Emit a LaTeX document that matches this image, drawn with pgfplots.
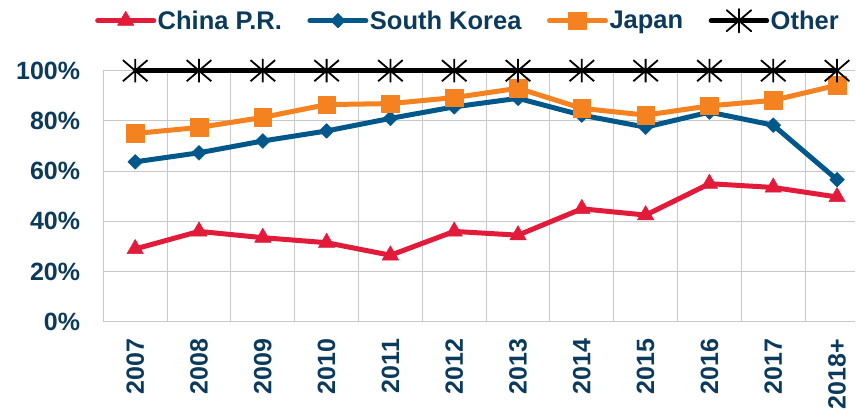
\documentclass[border=0pt]{standalone}
\usepackage{pgfplots}
\pgfplotsset{compat=1.18}
\usepackage{fontspec}
\setmainfont{Liberation Sans}
\definecolor{cred}{HTML}{E31B3B}
\definecolor{cblue}{HTML}{00578A}
\definecolor{corange}{HTML}{F58220}
\definecolor{cnavy}{HTML}{0B3A5C}
\definecolor{cgrid}{HTML}{C8C8C8}
\pgfdeclareplotmark{xstar}{%
  \pgfpathmoveto{\pgfqpoint{0pt}{-\pgfplotmarksize}}\pgfpathlineto{\pgfqpoint{0pt}{\pgfplotmarksize}}%
  \pgfpathmoveto{\pgfqpoint{-1.05\pgfplotmarksize}{-0.9\pgfplotmarksize}}\pgfpathlineto{\pgfqpoint{1.05\pgfplotmarksize}{0.9\pgfplotmarksize}}%
  \pgfpathmoveto{\pgfqpoint{-1.05\pgfplotmarksize}{0.9\pgfplotmarksize}}\pgfpathlineto{\pgfqpoint{1.05\pgfplotmarksize}{-0.9\pgfplotmarksize}}%
  \pgfusepathqstroke}
\begin{document}
\begin{tikzpicture}
\begin{axis}[
  scale only axis,
  width=751.6pt, height=251.1pt,
  xmin=-0.5, xmax=11.28,
  ymin=0, ymax=100,
  clip=false,
  axis x line*=bottom, axis y line*=left,
  axis line style={-, draw=cgrid, line width=1pt},
  xtick={0,...,11},
  xticklabels={2007,2008,2009,2010,2011,2012,2013,2014,2015,2016,2017,2018+},
  minor xtick={0.5,1.5,...,10.5},
  ytick={0,20,40,60,80,100},
  yticklabels={0\%,20\%,40\%,60\%,80\%,100\%},
  xmajorgrids=false, xminorgrids=true, ymajorgrids=true,
  grid style={draw=cgrid, line width=1pt},
  minor grid style={draw=cgrid, line width=1pt},
  major tick length=0pt, minor tick length=0pt,
  tick style={draw=none},
  ticklabel style={font=\bfseries\fontsize{25}{25}\selectfont, text=cnavy},
  yticklabel style={inner sep=0pt, anchor=east},
  yticklabel shift=23pt,
  xticklabel style={rotate=90, anchor=east, inner sep=0pt},
  xticklabel shift=17pt,
  legend columns=4,
  legend style={draw=none, fill=none, inner sep=0pt,
    at={(axis description cs:0,1)}, anchor=west, xshift=-8.3pt, yshift=50pt,
    font=\bfseries\fontsize{25.5}{26}\selectfont, text=cnavy,
    nodes={inner sep=1.5pt},
    /tikz/every even column/.append style={column sep=24pt}},
  legend image code/.code={\draw[mark repeat=2,mark phase=2, line cap=round] plot coordinates {(0pt,0pt) (28pt,0pt) (56pt,0pt)};},
  every axis plot/.append style={line width=5pt, line join=round},
]
\coordinate (O) at (rel axis cs:0,0);
\addplot[cred, mark=triangle*, mark size=9.5pt, mark options={solid, line width=0.5pt}]
  coordinates {(0,29) (1,36) (2,33.5) (3,31.5) (4,26.5) (5,36) (6,34.5) (7,45) (8,42.5) (9,55) (10,53.5) (11,49.7)};
\addlegendentry{China P.R.}
\addplot[cblue, mark=square*, mark size=5.2pt, mark options={solid, rotate=45, line width=0.5pt}]
  coordinates {(0,63.7) (1,67.3) (2,72) (3,76) (4,81) (5,85.6) (6,89) (7,82.3) (8,77.5) (9,83.5) (10,78.3) (11,56.6)};
\addlegendentry{South Korea}
\addplot[corange, mark=square*, mark size=8.8pt, mark options={solid, line width=0.5pt}]
  coordinates {(0,75) (1,77.4) (2,81.4) (3,86.5) (4,86.9) (5,89.3) (6,93) (7,85) (8,82.3) (9,86) (10,88.2) (11,94.2)};
\addlegendentry{Japan}
\addplot[black, line width=4.5pt, mark=xstar, mark size=11.7pt, mark options={solid, line width=1.8pt}]
  coordinates {(0,100) (1,100) (2,100) (3,100) (4,100) (5,100) (6,100) (7,100) (8,100) (9,100) (10,100) (11,100)};
\addlegendentry{Other}
\end{axis}
\pgfresetboundingbox
\path[use as bounding box] (O) ++(-103.3pt,-89.2pt) rectangle ++(856pt,411pt);
\end{tikzpicture}
\end{document}
